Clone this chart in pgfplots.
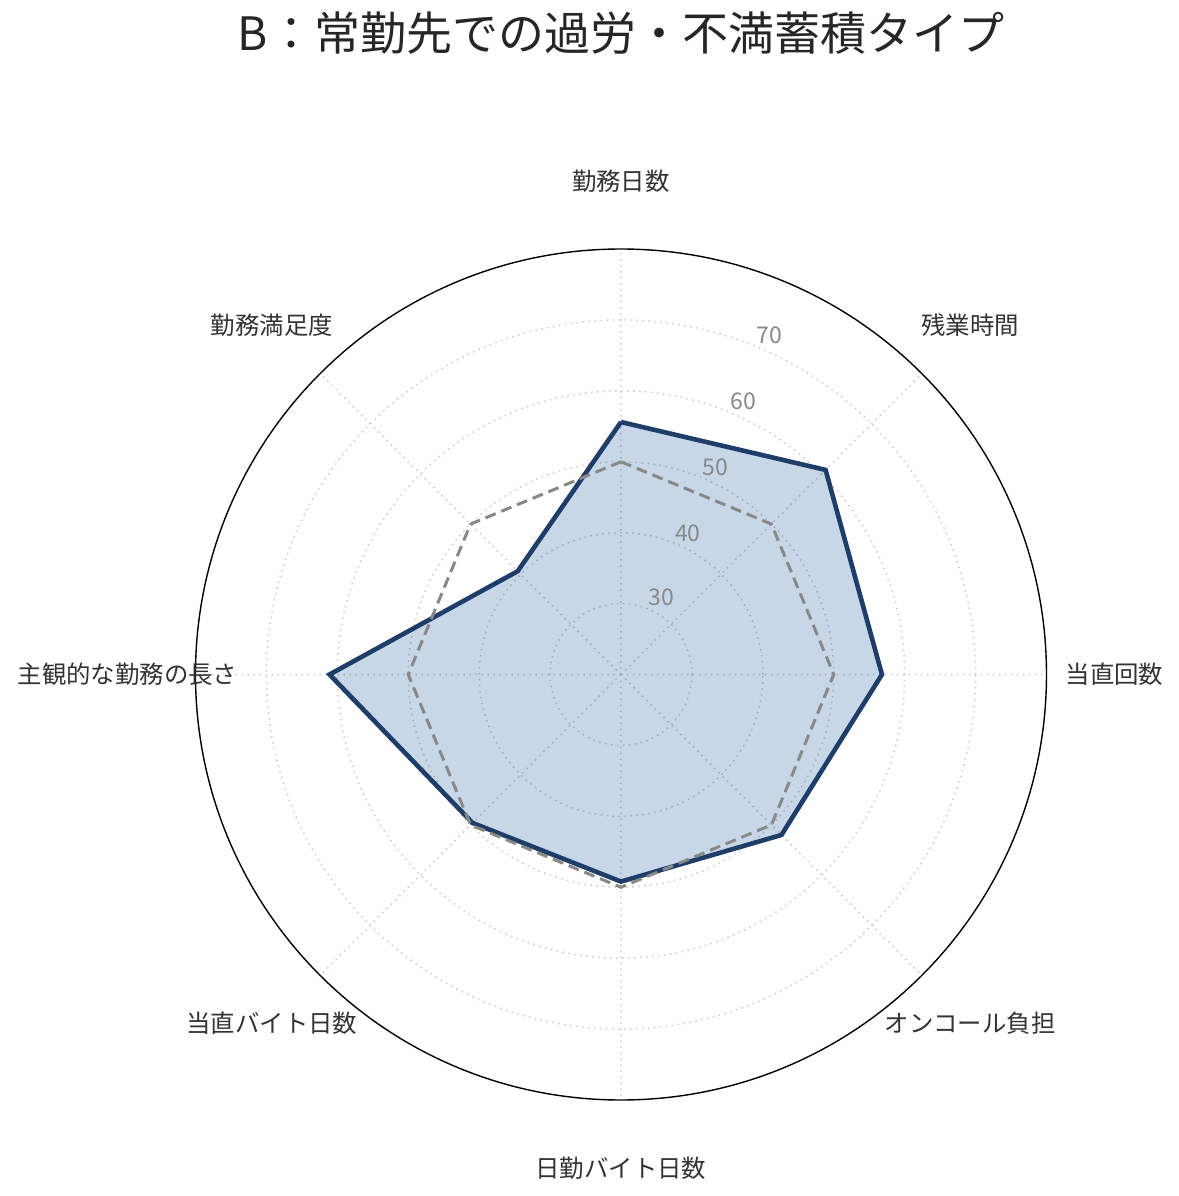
\documentclass[border=0pt]{standalone}
\usepackage{fontspec}
\setmainfont{Noto Sans CJK JP}
\usepackage{pgfplots}
\pgfplotsset{compat=1.18}
\usepgfplotslibrary{polar}

\definecolor{navy}{RGB}{30,61,104}
\definecolor{fillblue}{RGB}{35,95,163}
\definecolor{refgray}{HTML}{888888}
\definecolor{labelc}{HTML}{333333}

\begin{document}
\begin{tikzpicture}
\begin{polaraxis}[
  scale only axis, width=425.5pt, height=425.5pt,
  xmin=0, xmax=360, ymin=0, ymax=60,
  xtick={0,45,...,315}, xticklabels={,,},
  ytick={10,20,30,40,50}, yticklabels={,,},
  major tick length=0pt,
  y filter/.expression={y-20},
  grid=major,
  major grid style={gray!40, line width=0.75pt, dash pattern=on 0.75pt off 2.25pt},
  axis line style={black, line width=0.7pt},
  y axis line style={draw=none},
  clip=false,
]
% 当該タイプ
\addplot[draw=navy, line width=2.3pt, line join=miter, fill=fillblue, fill opacity=0.25]
  coordinates {(90,55.6) (45,60.8) (0,56.8) (315,52.0) (270,49.2) (225,49.6) (180,61.1) (135,40.6) (90,55.6)};
% 全体平均 (基準)
\addplot[draw=refgray, line width=1.5pt, dash pattern=on 5.5pt off 3pt, line join=miter]
  coordinates {(90,50) (45,50) (0,50) (315,50) (270,50) (225,50) (180,50) (135,50) (90,50)};

\coordinate (c) at (axis cs:0,0);

% axis labels
\begin{scope}[every node/.style={font=\fontsize{12.2}{14}\selectfont, text=labelc, anchor=center}]
\node at (axis cs:90,69.6) {勤務日数};
\node at (axis cs:45,69.6) {残業時間};
\node at (axis cs:0,69.6) {当直回数};
\node at (axis cs:315,69.6) {オンコール負担};
\node at (axis cs:270,69.6) {日勤バイト日数};
\node at (axis cs:225,69.6) {当直バイト日数};
\node at (axis cs:180,69.6) {主観的な勤務の長さ};
\node at (axis cs:135,69.6) {勤務満足度};
\end{scope}

% radial tick labels
\begin{scope}[every node/.style={font=\fontsize{11.5}{13}\selectfont, text=refgray, anchor=center}]
\node at (axis cs:62.5,12.3) {30};
\node at (axis cs:64.7,22.1) {40};
\node at (axis cs:65.4,32.1) {50};
\node at (axis cs:65.9,42.2) {60};
\node at (axis cs:66.4,52.2) {70};
\end{scope}
\end{polaraxis}

\node[font=\fontsize{23}{27}\selectfont, text=black!85] at ([yshift=320.75pt]c) {B：常勤先での過労・不満蓄積タイプ};

\pgfresetboundingbox
\path[use as bounding box] (c) ++(-310.5pt,-260.75pt) rectangle ++(589.5pt,598pt);
\end{tikzpicture}
\end{document}
